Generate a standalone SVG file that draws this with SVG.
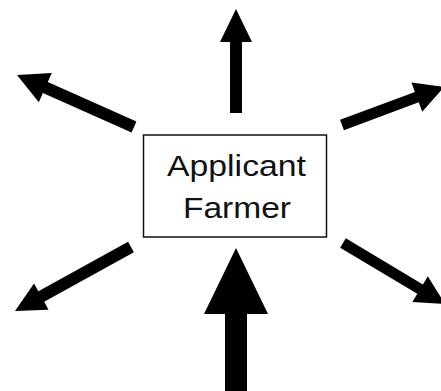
<svg xmlns="http://www.w3.org/2000/svg" width="441" height="391" viewBox="0 0 441 391">
<style>
.arrow{fill:#000;stroke:none}
.box{fill:#fff;stroke:#111;stroke-width:1.5}
.lbl{font-family:"Liberation Sans",Arial,sans-serif;font-size:30px;fill:#111}
</style>
<rect width="441" height="391" fill="#fff"/>
<g id="connectors">
<polygon class="arrow" points="230,113 230,42 220,42 236,9 252,42 242,42 242,113"/>
<polygon class="arrow" points="136.44,121.52 47.77,82.11 51.83,72.97 17,75 38.83,102.21 42.89,93.07 131.56,132.48"/>
<polygon class="arrow" points="343.92,130.15 418.74,102.27 422.23,111.65 444,87 411.41,82.59 414.90,91.97 340.08,119.85"/>
<polygon class="arrow" points="128.10,241.75 38.37,291.26 34.02,283.38 15,311 48.52,309.64 44.17,301.76 133.90,252.25"/>
<polygon class="arrow" points="340.18,247.72 417.29,293.83 412.41,301.98 445,304 427.81,276.24 422.93,284.39 345.82,238.28"/>
<polygon class="arrow" points="225,392 225,314 204,314 236,248 268,314 247,314 247,392"/>
</g>
<g id="applicant-farmer">
<rect class="box" x="143.5" y="135" width="183" height="102"/>
<text class="lbl" x="167" y="176" textLength="139" lengthAdjust="spacingAndGlyphs">Applicant</text>
<text class="lbl" x="183" y="218" textLength="108" lengthAdjust="spacingAndGlyphs">Farmer</text>
</g>
</svg>
